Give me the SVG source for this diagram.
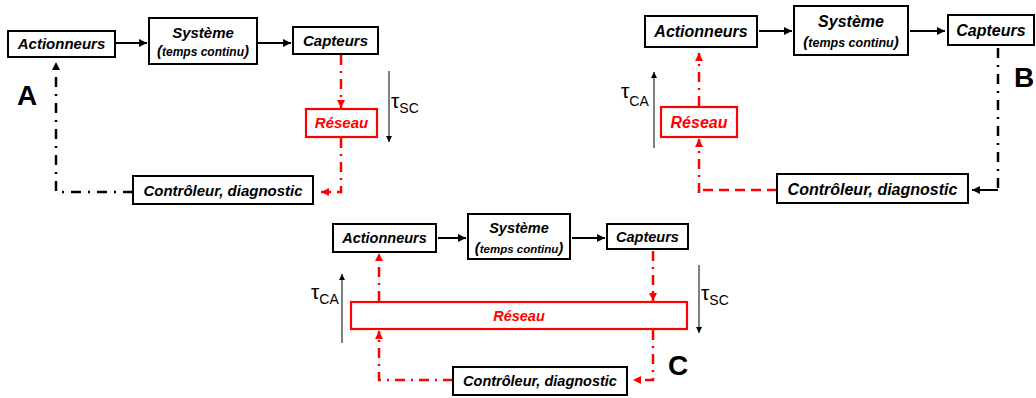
<svg xmlns="http://www.w3.org/2000/svg" width="1036" height="398" viewBox="0 0 1036 398">
  <style>
    .box { fill: #fff; stroke: #000; stroke-width: 2; }
    .net { fill: #fff; stroke: #f00; stroke-width: 2.2; }
    .lbl { font-family: "Liberation Sans", Arial, sans-serif; font-weight: bold; font-style: italic; text-anchor: middle; fill: #000; }
    .red { fill: #f00; }
    .par { font-size: 15px; }
    .tau { font-family: "Liberation Sans", Arial, sans-serif; fill: #000; }
    .big { font-family: "Liberation Sans", Arial, sans-serif; font-weight: bold; font-size: 28px; fill: #000; }
    .solid { fill: none; stroke: #000; stroke-width: 2; }
    .kdd { fill: none; stroke: #000; stroke-width: 2.5; stroke-dasharray: 10 7 2 7; }
    .rdd { fill: none; stroke: #f00; stroke-width: 2.5; stroke-dasharray: 10 6 2 6; }
    .rdash { fill: none; stroke: #f00; stroke-width: 2.5; stroke-dasharray: 10 6; }
    .thin { fill: none; stroke: #000; stroke-width: 1; }
  </style>
  <defs>
    <marker id="ak" markerUnits="userSpaceOnUse" markerWidth="8" markerHeight="8" refX="8" refY="4" orient="auto">
      <path d="M0,0 L8,4 L0,8 z" fill="#000"/>
    </marker>
    <marker id="ar" markerUnits="userSpaceOnUse" markerWidth="8" markerHeight="8" refX="8" refY="4" orient="auto">
      <path d="M0,0 L8,4 L0,8 z" fill="#f00"/>
    </marker>
    <marker id="at" markerUnits="userSpaceOnUse" markerWidth="6" markerHeight="6" refX="6" refY="3" orient="auto">
      <path d="M0,0 L6,3 L0,6 z" fill="#000"/>
    </marker>
  </defs>

  <!-- connectors -->
  <g id="connectors">
    <!-- loop A -->
    <line class="solid" x1="116" y1="43" x2="147" y2="43" marker-end="url(#ak)"/>
    <line class="solid" x1="258" y1="43" x2="291" y2="43" marker-end="url(#ak)"/>
    <path class="rdd" d="M341,55 V108" marker-end="url(#ar)"/>
    <path class="rdd" d="M341,138 V192 H321" marker-end="url(#ar)"/>
    <path class="kdd" d="M133,192 H56 V62" marker-end="url(#ak)"/>
    <line class="thin" x1="389" y1="71" x2="389" y2="142" marker-end="url(#at)"/>

    <!-- loop B -->
    <line class="solid" x1="759" y1="31" x2="792" y2="31" marker-end="url(#ak)"/>
    <line class="solid" x1="910" y1="31" x2="945" y2="31" marker-end="url(#ak)"/>
    <path class="kdd" d="M998,48 V190"/>
    <line class="solid" x1="998" y1="190" x2="972" y2="190" marker-end="url(#ak)"/>
    <path class="rdash" d="M777,190 H699"/>
    <path class="rdd" d="M699,193 V139" marker-end="url(#ar)"/>
    <path class="rdd" d="M699,106 V53" marker-end="url(#ar)"/>
    <line class="thin" x1="654" y1="148" x2="654" y2="72" marker-end="url(#at)"/>

    <!-- loop C -->
    <line class="solid" x1="438" y1="238" x2="466" y2="238" marker-end="url(#ak)"/>
    <line class="solid" x1="572" y1="238" x2="605" y2="238" marker-end="url(#ak)"/>
    <path class="rdd" d="M653,251 V301" marker-end="url(#ar)"/>
    <path class="rdd" d="M653,330 V380 H633" marker-end="url(#ar)"/>
    <path class="rdd" d="M453,380 H379 V331" marker-end="url(#ar)"/>
    <path class="rdd" d="M379,301 V253" marker-end="url(#ar)"/>
    <line class="thin" x1="342" y1="343" x2="342" y2="274" marker-end="url(#at)"/>
    <line class="thin" x1="699" y1="265" x2="699" y2="333" marker-end="url(#at)"/>
  </g>

  <!-- loop A nodes -->
  <g id="a-actionneurs">
    <rect class="box" x="8" y="31" width="107" height="26"/>
    <text class="lbl" x="61.5" y="49" font-size="15">Actionneurs</text>
  </g>
  <g id="a-systeme">
    <rect class="box" x="149" y="18" width="108" height="46"/>
    <text class="lbl" x="203" y="38" font-size="15">Système</text>
    <text class="lbl" x="203" y="56" font-size="12"><tspan class="par">(</tspan>temps continu<tspan class="par">)</tspan></text>
  </g>
  <g id="a-capteurs">
    <rect class="box" x="293" y="27" width="85" height="27"/>
    <text class="lbl" x="335.5" y="46" font-size="15">Capteurs</text>
  </g>
  <g id="a-reseau">
    <rect class="net" x="306" y="109" width="71" height="28"/>
    <text class="lbl red" x="341.5" y="128" font-size="15">Réseau</text>
  </g>
  <g id="a-controleur">
    <rect class="box" x="133" y="176" width="180" height="28"/>
    <text class="lbl" x="223" y="196" font-size="15">Contrôleur, diagnostic</text>
  </g>
  <text class="tau" x="391" y="108" font-size="21">τ<tspan font-size="14" dy="5">SC</tspan></text>
  <text class="big" x="17" y="105">A</text>

  <!-- loop B nodes -->
  <g id="b-actionneurs">
    <rect class="box" x="645" y="16" width="112" height="31"/>
    <text class="lbl" x="701" y="37" font-size="16">Actionneurs</text>
  </g>
  <g id="b-systeme">
    <rect class="box" x="794" y="6" width="114" height="49"/>
    <text class="lbl" x="851" y="27" font-size="16">Système</text>
    <text class="lbl" x="851" y="47" font-size="12.5"><tspan class="par">(</tspan>temps continu<tspan class="par">)</tspan></text>
  </g>
  <g id="b-capteurs">
    <rect class="box" x="948" y="15" width="86" height="30"/>
    <text class="lbl" x="991" y="36" font-size="16">Capteurs</text>
  </g>
  <g id="b-reseau">
    <rect class="net" x="661" y="107" width="76" height="30"/>
    <text class="lbl red" x="699" y="128" font-size="16">Réseau</text>
  </g>
  <g id="b-controleur">
    <rect class="box" x="777" y="174" width="191" height="29"/>
    <text class="lbl" x="872.5" y="195" font-size="16">Contrôleur, diagnostic</text>
  </g>
  <text class="tau" x="621" y="98" font-size="21">τ<tspan font-size="14" dy="8">CA</tspan></text>
  <text class="big" x="1014" y="87">B</text>

  <!-- loop C nodes -->
  <g id="c-actionneurs">
    <rect class="box" x="333" y="224" width="103" height="28"/>
    <text class="lbl" x="384.5" y="243" font-size="14.5">Actionneurs</text>
  </g>
  <g id="c-systeme">
    <rect class="box" x="468" y="214" width="102" height="45"/>
    <text class="lbl" x="519" y="233" font-size="14.5">Système</text>
    <text class="lbl" x="519" y="253" font-size="11.5"><tspan class="par">(</tspan>temps continu<tspan class="par">)</tspan></text>
  </g>
  <g id="c-capteurs">
    <rect class="box" x="607" y="224" width="81" height="25"/>
    <text class="lbl" x="647.5" y="242" font-size="14.5">Capteurs</text>
  </g>
  <g id="c-reseau">
    <rect class="net" x="351" y="302" width="336" height="27"/>
    <text class="lbl red" x="519" y="321" font-size="14.5">Réseau</text>
  </g>
  <g id="c-controleur">
    <rect class="box" x="453" y="367" width="174" height="28"/>
    <text class="lbl" x="540" y="386" font-size="14.5">Contrôleur, diagnostic</text>
  </g>
  <text class="tau" x="311" y="299" font-size="21">τ<tspan font-size="14" dy="5">CA</tspan></text>
  <text class="tau" x="701" y="300" font-size="21">τ<tspan font-size="14" dy="5">SC</tspan></text>
  <text class="big" x="668" y="375">C</text>
</svg>
